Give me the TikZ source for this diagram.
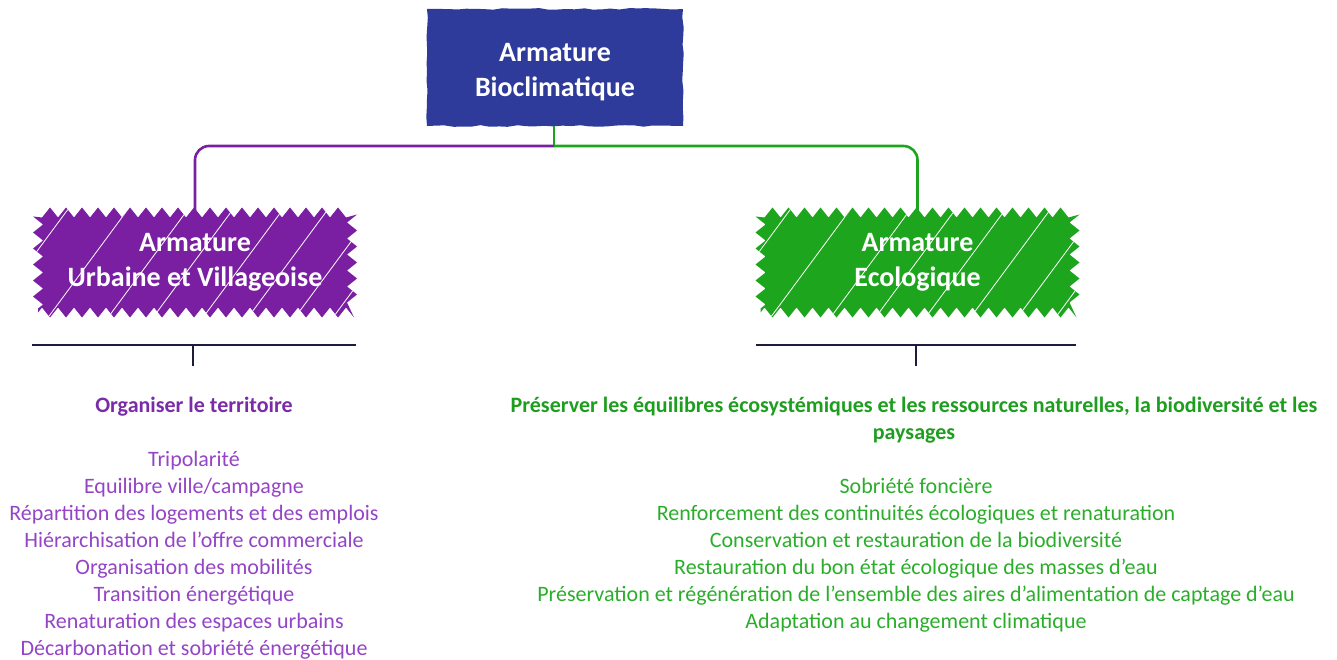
\documentclass[tikz,border=0pt]{standalone}
\usepackage{fontspec}
\setmainfont{Carlito}
\usetikzlibrary{decorations.pathmorphing}
\definecolor{bioblue}{HTML}{2E3B9B}
\definecolor{urbpurple}{HTML}{7B1FA2}
\definecolor{ecogreen}{HTML}{1EA51E}
\definecolor{navyrule}{HTML}{1C1C3C}
\definecolor{purtxt}{HTML}{9444C6}
\definecolor{purhead}{HTML}{7A2CA8}
\definecolor{grntxt}{HTML}{2AAE2A}
\definecolor{grnhead}{HTML}{1E9E1E}
\begin{document}
\begin{tikzpicture}[x=1pt,y=-1pt,
  boxtitle/.style={text=white, font=\fontsize{28}{35}\selectfont\bfseries, align=center, inner sep=0pt},
  hatchbox/.style={boxtitle, fill=#1, minimum width=314pt, minimum height=100pt,
    decorate, decoration={zigzag, segment length=16pt, amplitude=5pt},
    path picture={
      \foreach \t in {-45,15,75,120,170,215,262,300}
        \draw[white, line width=0.8pt] ([xshift=\t pt]path picture bounding box.south west) -- ++(85,-115);
    }},
  link/.style={line width=2.6pt, rounded corners=14pt},
  rulebar/.style={navyrule, line width=2.6pt},
  bodytxt/.style={font=\fontsize{22}{27}\selectfont, anchor=base, inner sep=0pt},
  headtxt/.style={font=\fontsize{22}{27}\selectfont\bfseries, anchor=base, inner sep=0pt}
]
\useasboundingbox (0,0) rectangle (1337,660);

% boxes
\node[fill=bioblue, minimum width=256pt, minimum height=117pt, inner sep=0pt,
  decorate, decoration={random steps, segment length=9pt, amplitude=0.9pt}]
  (bio) at (555,67.5) {};
\node[boxtitle, yshift=-4.5pt] (biot) at (bio.center) {Armature\\Bioclimatique};
\node[hatchbox=urbpurple] (urb) at (195,262.5) {Armature\\Urbaine et Villageoise};
\node[hatchbox=ecogreen] (eco) at (917.5,262.5) {Armature\\Ecologique};

% connectors
\coordinate (j) at (554,146);
\draw[link, ecogreen] (bio.south -| j) -- (j);
\draw[link, urbpurple] (j) -| (urb.north);
\draw[link, ecogreen] (j) -| (eco.north);

% rules
\draw[rulebar] (32,345) -- (356,345);
\draw[rulebar] (193,345) -- (193,366);
\draw[rulebar] (756,345) -- (1076,345);
\draw[rulebar] (916,345) -- (916,366);

% left text
\node[headtxt, text=purhead] (lhead) at (194,412) {Organiser le territoire};
\foreach \txt [count=\i] in {Tripolarité, Equilibre ville/campagne, Répartition des logements et des emplois, Hiérarchisation de l'offre commerciale, Organisation des mobilités, Transition énergétique, Renaturation des espaces urbains, Décarbonation et sobriété énergétique}
  \node[bodytxt, text=purtxt] (l\i) at (194,439+27*\i) {\txt};

% right text
\node[headtxt, text=grnhead] (rhead1) at (914,412) {Préserver les équilibres écosystémiques et les ressources naturelles, la biodiversité et les};
\node[headtxt, text=grnhead] (rhead2) at (914,439) {paysages};
\foreach \txt [count=\i] in {Sobriété foncière, Renforcement des continuités écologiques et renaturation, Conservation et restauration de la biodiversité, Restauration du bon état écologique des masses d’eau, Préservation et régénération de l’ensemble des aires d’alimentation de captage d’eau, Adaptation au changement climatique}
  \node[bodytxt, text=grntxt] (r\i) at (916,466+27*\i) {\txt};
\end{tikzpicture}
\end{document}
